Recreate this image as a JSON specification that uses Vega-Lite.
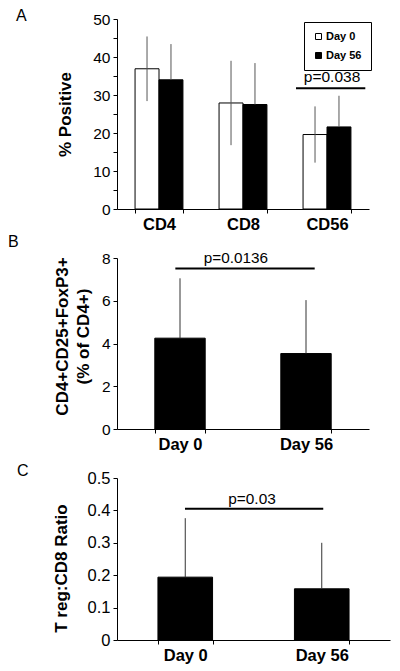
{
  "$schema": "https://vega.github.io/schema/vega-lite/v6.json",
  "background": "white",
  "padding": {"left": 8, "top": 8, "right": 5, "bottom": 5},
  "bounds": "flush",
  "spacing": 49,
  "config": {
    "font": "Liberation Sans",
    "view": {"stroke": null},
    "axis": {
      "grid": false,
      "domainColor": "black",
      "domainWidth": 1,
      "tickColor": "black",
      "tickSize": 4,
      "labelColor": "black",
      "labelFont": "Liberation Sans",
      "labelPadding": 3,
      "labelOverlap": false,
      "titleColor": "black",
      "titleFont": "Liberation Sans",
      "titleFontWeight": "bold",
      "titleFontSize": 17
    },
    "axisX": {"labelFontWeight": "bold", "labelFontSize": 16.5, "labelAngle": 0, "tickBand": "extent", "title": null},
    "title": {"anchor": "start", "frame": "group", "fontWeight": "normal", "fontSize": 16, "color": "black", "font": "Liberation Sans", "baseline": "alphabetic", "offset": 0}
  },
  "datasets": {
    "panelA": [
      {"cell": "CD4", "day": "Day 0", "value": 36.9, "lo": 28.4, "hi": 45.4},
      {"cell": "CD4", "day": "Day 56", "value": 34.0, "lo": 24.6, "hi": 43.4},
      {"cell": "CD8", "day": "Day 0", "value": 27.9, "lo": 16.8, "hi": 39.0},
      {"cell": "CD8", "day": "Day 56", "value": 27.5, "lo": 16.6, "hi": 38.4},
      {"cell": "CD56", "day": "Day 0", "value": 19.6, "lo": 12.2, "hi": 27.0},
      {"cell": "CD56", "day": "Day 56", "value": 21.6, "lo": 13.4, "hi": 29.8}
    ],
    "panelB": [
      {"day": "Day 0", "value": 4.25, "hi": 7.05},
      {"day": "Day 56", "value": 3.53, "hi": 6.03}
    ],
    "panelC": [
      {"day": "Day 0", "value": 0.194, "hi": 0.376},
      {"day": "Day 56", "value": 0.158, "hi": 0.300}
    ],
    "sigA": [{"x1": 2.131, "x2": 2.956, "y": 31.75, "xt": 2.56, "yt": 33.3, "label": "p=0.038"}],
    "sigB": [{"x1": 0.463, "x2": 1.569, "y": 7.51, "xt": 0.944, "yt": 7.75, "label": "p=0.0136"}],
    "sigC": [{"x1": 0.498, "x2": 1.511, "y": 0.405, "xt": 0.989, "yt": 0.4205, "label": "p=0.03"}]
  },
  "vconcat": [
    {
      "width": 252,
      "height": 190,
      "title": {"text": "A", "dx": -101, "dy": 16},
      "resolve": {"scale": {"x": "independent"}},
      "layer": [
        {
          "data": {"name": "panelA"},
          "layer": [
            {
              "mark": {"type": "bar", "stroke": "black", "strokeWidth": 1},
              "encoding": {
                "x": {"field": "cell", "type": "nominal", "sort": ["CD4", "CD8", "CD56"], "scale": {"paddingInner": 0.43, "paddingOuter": 0.215}, "axis": {}},
                "xOffset": {"field": "day", "type": "nominal", "scale": {"paddingInner": 0, "paddingOuter": 0}},
                "y": {"field": "value", "type": "quantitative", "scale": {"domain": [0, 50], "nice": false}, "axis": {"title": "% Positive", "tickCount": 10, "labelExpr": "datum.value % 10 == 0 ? datum.label : ''", "labelFontSize": 15.5, "labelOverlap": false, "labelFlush": false, "titlePadding": 18}},
                "fill": {"field": "day", "type": "nominal", "scale": {"domain": ["Day 0", "Day 56"], "range": ["white", "black"]}, "legend": {"orient": "none", "legendX": 187, "legendY": 3, "title": null, "strokeColor": "black", "padding": 9, "symbolType": "square", "symbolSize": 36, "symbolStrokeColor": "black", "symbolStrokeWidth": 1, "labelFontSize": 11, "labelFontWeight": "bold", "labelColor": "black", "rowPadding": 7, "labelOffset": 2}}
              }
            },
            {
              "mark": {"type": "rule", "color": "#555", "strokeWidth": 1},
              "encoding": {
                "x": {"field": "cell", "type": "nominal", "sort": ["CD4", "CD8", "CD56"]},
                "xOffset": {"field": "day", "type": "nominal"},
                "y": {"field": "value", "type": "quantitative"},
                "y2": {"field": "hi"}
              }
            },
            {
              "transform": [{"filter": "datum.day == 'Day 0'"}],
              "mark": {"type": "rule", "color": "#555", "strokeWidth": 1},
              "encoding": {
                "x": {"field": "cell", "type": "nominal", "sort": ["CD4", "CD8", "CD56"]},
                "xOffset": {"field": "day", "type": "nominal"},
                "y": {"field": "lo", "type": "quantitative"},
                "y2": {"field": "value"}
              }
            }
          ]
        },
        {
          "data": {"name": "sigA"},
          "layer": [
            {
              "mark": {"type": "rule", "color": "black", "strokeWidth": 2},
              "encoding": {
                "x": {"field": "x1", "type": "quantitative", "scale": {"domain": [0, 3], "nice": false, "zero": false}, "axis": null},
                "x2": {"field": "x2"},
                "y": {"field": "y", "type": "quantitative"}
              }
            },
            {
              "mark": {"type": "text", "fontSize": 15.5, "baseline": "alphabetic", "align": "center", "color": "black"},
              "encoding": {
                "x": {"field": "xt", "type": "quantitative"},
                "y": {"field": "yt", "type": "quantitative"},
                "text": {"field": "label"}
              }
            }
          ]
        }
      ]
    },
    {
      "width": 252,
      "height": 171,
      "title": {"text": "B", "dx": -109, "dy": 3},
      "resolve": {"scale": {"x": "independent"}},
      "layer": [
        {
          "data": {"name": "panelB"},
          "layer": [
            {
              "mark": {"type": "bar", "fill": "black", "stroke": "black", "strokeWidth": 1},
              "encoding": {
                "x": {"field": "day", "type": "nominal", "scale": {"paddingInner": 0.6, "paddingOuter": 0.3}, "axis": {}},
                "y": {"field": "value", "type": "quantitative", "scale": {"domain": [0, 8], "nice": false}, "axis": {"title": ["CD4+CD25+FoxP3+", "(% of CD4+)"], "tickCount": 4, "labelFontSize": 15.5, "labelOverlap": false, "labelFlush": false, "titlePadding": 9, "titleLineHeight": 21, "titleY": 78}}
              }
            },
            {
              "mark": {"type": "rule", "color": "#333", "strokeWidth": 1},
              "encoding": {
                "x": {"field": "day", "type": "nominal"},
                "y": {"field": "value", "type": "quantitative"},
                "y2": {"field": "hi"}
              }
            }
          ]
        },
        {
          "data": {"name": "sigB"},
          "layer": [
            {
              "mark": {"type": "rule", "color": "black", "strokeWidth": 2},
              "encoding": {
                "x": {"field": "x1", "type": "quantitative", "scale": {"domain": [0, 2], "nice": false, "zero": false}, "axis": null},
                "x2": {"field": "x2"},
                "y": {"field": "y", "type": "quantitative"}
              }
            },
            {
              "mark": {"type": "text", "fontSize": 15.3, "baseline": "alphabetic", "align": "center", "color": "black"},
              "encoding": {
                "x": {"field": "xt", "type": "quantitative"},
                "y": {"field": "yt", "type": "quantitative"},
                "text": {"field": "label"}
              }
            }
          ]
        }
      ]
    },
    {
      "width": 273,
      "height": 162,
      "title": {"text": "C", "dx": -100, "dy": 13},
      "resolve": {"scale": {"x": "independent"}},
      "layer": [
        {
          "data": {"name": "panelC"},
          "layer": [
            {
              "mark": {"type": "bar", "fill": "black", "stroke": "black", "strokeWidth": 1},
              "encoding": {
                "x": {"field": "day", "type": "nominal", "scale": {"paddingInner": 0.6, "paddingOuter": 0.3}, "axis": {}},
                "y": {"field": "value", "type": "quantitative", "scale": {"domain": [0, 0.5], "nice": false}, "axis": {"title": "T reg:CD8 Ratio", "tickCount": 5, "format": ".1~f", "labelFontSize": 16.5, "labelOverlap": false, "labelFlush": false, "titlePadding": 17, "titleY": 90}}
              }
            },
            {
              "mark": {"type": "rule", "color": "#333", "strokeWidth": 1},
              "encoding": {
                "x": {"field": "day", "type": "nominal"},
                "y": {"field": "value", "type": "quantitative"},
                "y2": {"field": "hi"}
              }
            }
          ]
        },
        {
          "data": {"name": "sigC"},
          "layer": [
            {
              "mark": {"type": "rule", "color": "black", "strokeWidth": 2},
              "encoding": {
                "x": {"field": "x1", "type": "quantitative", "scale": {"domain": [0, 2], "nice": false, "zero": false}, "axis": null},
                "x2": {"field": "x2"},
                "y": {"field": "y", "type": "quantitative"}
              }
            },
            {
              "mark": {"type": "text", "fontSize": 15.4, "baseline": "alphabetic", "align": "center", "color": "black"},
              "encoding": {
                "x": {"field": "xt", "type": "quantitative"},
                "y": {"field": "yt", "type": "quantitative"},
                "text": {"field": "label"}
              }
            }
          ]
        }
      ]
    }
  ]
}
